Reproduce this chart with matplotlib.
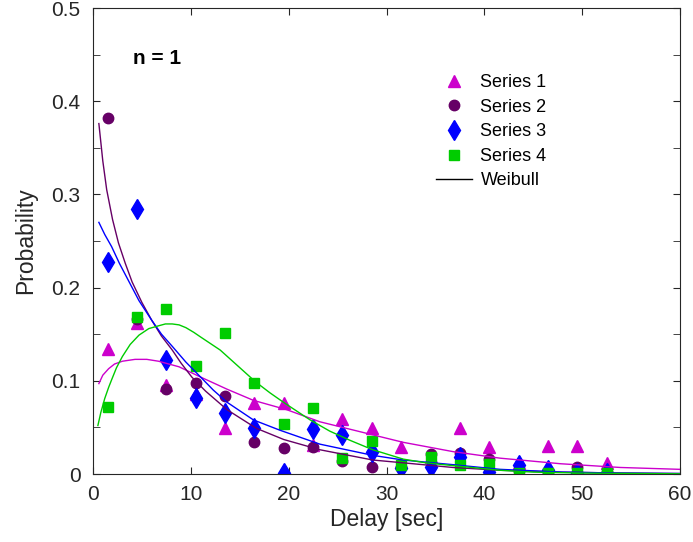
import matplotlib.pyplot as plt
import numpy as np

plt.rcParams['font.family'] = ['Liberation Sans', 'DejaVu Sans']

# delay bins [sec]
delay = [1.5, 4.5, 7.5, 10.5, 13.5, 16.5, 19.5, 22.5, 25.5, 28.5,
         31.5, 34.5, 37.5, 40.5, 43.5, 46.5, 49.5, 52.5]

series1 = [0.134, 0.162, 0.095, 0.086, 0.049, 0.076, 0.076, 0.031, 0.059, 0.049,
           0.029, 0.018, 0.049, 0.029, 0.012, 0.030, 0.030, 0.012]
series2 = [0.382, 0.166, 0.091, 0.098, 0.084, 0.034, 0.028, 0.029, 0.014, 0.007,
           0.007, 0.021, 0.022, 0.016, 0.003, 0.001, 0.008, 0.002]
series3 = [0.227, 0.284, 0.122, 0.082, 0.065, 0.049, 0.001, 0.048, 0.042, 0.024,
           0.006, 0.008, 0.018, 0.002, 0.010, 0.004, 0.001, 0.001]
series4 = [0.072, 0.168, 0.177, 0.116, 0.151, 0.098, 0.054, 0.071, 0.017, 0.035,
           0.010, 0.018, 0.010, 0.011, 0.001, 0.001, 0.001, 0.001]

# Weibull fit curves
fit_x1 = [0.6, 1.0, 1.6, 2.2, 3.0, 4.3, 5.5, 6.7, 8.8, 11.0, 13.7, 16.4, 19.8,
          23.2, 28.6, 31.7, 36.8, 41.6, 47.8, 53.9, 60.0]
fit_y1 = [0.097, 0.106, 0.113, 0.118, 0.121, 0.123, 0.123, 0.121, 0.115, 0.104,
          0.091, 0.079, 0.069, 0.056, 0.042, 0.034, 0.024, 0.017, 0.011, 0.007, 0.005]
fit_x2 = [0.6, 1.0, 1.4, 2.0, 2.6, 3.3, 4.0, 5.0, 6.0, 7.0, 8.1, 9.0, 10.1,
          11.5, 13.7, 16.7, 19.5, 23.2, 28.6, 31.7, 36.8, 41.6, 48.0, 54.0, 60.0]
fit_y2 = [0.376, 0.336, 0.305, 0.273, 0.248, 0.226, 0.206, 0.184, 0.165, 0.148,
          0.133, 0.119, 0.104, 0.089, 0.069, 0.049, 0.037, 0.026, 0.015, 0.012,
          0.007, 0.004, 0.002, 0.001, 0.0005]
fit_x3 = [0.6, 1.2, 1.9, 2.7, 3.5, 4.7, 6.0, 7.0, 8.1, 9.5, 11.0, 12.3, 13.7,
          16.4, 19.1, 23.2, 28.6, 31.7, 36.8, 41.6, 48.0, 54.0, 60.0]
fit_y3 = [0.270, 0.257, 0.244, 0.226, 0.210, 0.186, 0.165, 0.150, 0.137, 0.120,
          0.104, 0.090, 0.077, 0.058, 0.047, 0.032, 0.020, 0.015, 0.010, 0.005,
          0.002, 0.001, 0.0005]
fit_x4 = [0.5, 0.8, 1.2, 1.6, 1.9, 2.4, 3.0, 3.8, 4.7, 5.7, 6.7, 7.4, 8.1, 8.8,
          9.5, 10.3, 11.0, 12.0, 13.0, 14.8, 16.6, 18.1, 19.6, 22.2, 24.2, 26.3,
          28.6, 31.7, 34.0, 36.8, 41.6, 45.0, 50.0, 60.0]
fit_y4 = [0.052, 0.066, 0.081, 0.093, 0.101, 0.114, 0.126, 0.139, 0.149, 0.156,
          0.159, 0.161, 0.161, 0.160, 0.157, 0.152, 0.147, 0.140, 0.133, 0.116,
          0.099, 0.087, 0.076, 0.058, 0.046, 0.036, 0.026, 0.016, 0.012, 0.009,
          0.004, 0.002, 0.001, 0.0002]

c1 = '#cc00cc'
c2 = '#660066'
c3 = '#0000ff'
c4 = '#00cc00'

fig = plt.figure(figsize=(6.93, 5.42), dpi=100)
ax = fig.add_axes([93 / 693, 68 / 542, 587 / 693, 466 / 542])

ax.plot(delay, series1, '^', color=c1, markersize=8.5, label='Series 1')
ax.plot(delay, series2, 'o', color=c2, markersize=7.5, label='Series 2')
ax.plot(delay, series3, 'd', color=c3, markersize=10, label='Series 3')
ax.plot(delay, series4, 's', color=c4, markersize=6.5, label='Series 4')

ax.plot(fit_x1, fit_y1, '-', color=c1, linewidth=1, zorder=3)
ax.plot(fit_x2, fit_y2, '-', color=c2, linewidth=1, zorder=3)
ax.plot(fit_x3, fit_y3, '-', color=c3, linewidth=1, zorder=3)
ax.plot(fit_x4, fit_y4, '-', color=c4, linewidth=1, zorder=3)
ax.plot([], [], '-', color='black', linewidth=1, label='Weibull')

ax.set_xlim(0, 60)
ax.set_ylim(0, 0.5)
ax.set_xticks([0, 10, 20, 30, 40, 50, 60])
ax.set_yticks([0, 0.1, 0.2, 0.3, 0.4, 0.5])
ax.set_yticklabels(['0', '0.1', '0.2', '0.3', '0.4', '0.5'])
ax.set_yticks(np.arange(0.05, 0.5, 0.1), minor=True)
ax.tick_params(which='both', direction='in', length=5, top=True, right=True,
               labelsize=15, colors='#262626')
ax.tick_params(axis='x', pad=8)
ax.tick_params(axis='y', pad=9)
for s in ax.spines.values():
    s.set_color('#262626')

ax.set_xlabel('Delay [sec]', fontsize=16.5, color='#262626', labelpad=3)
ax.set_ylabel('Probability', fontsize=16.5, color='#262626', labelpad=10)

ax.text(4.1, 0.446, 'n = 1', fontsize=15, fontweight='bold', va='center', ha='left')

ax.legend(loc='upper left', bbox_to_anchor=(0.557, 0.893), frameon=False,
          fontsize=13, handlelength=2.0, handletextpad=0.45, labelspacing=0.42)

fig.savefig('out.png', dpi=100)
